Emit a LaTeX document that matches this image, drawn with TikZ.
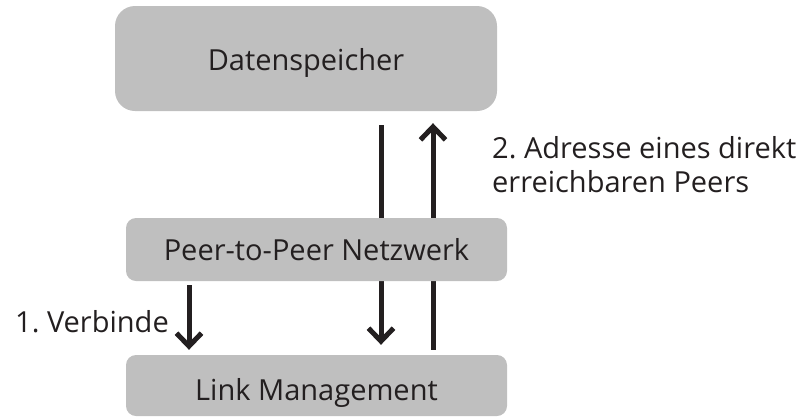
\documentclass[tikz,border=0pt]{standalone}
\usepackage{fontspec}
\setmainfont{Open Sans}
\usetikzlibrary{arrows.meta,backgrounds}
\definecolor{boxgray}{HTML}{BFBFBF}
\definecolor{ink}{HTML}{231F20}
\begin{document}
\frenchspacing
\begin{tikzpicture}[x=1pt,y=-1pt,
  box/.style={fill=boxgray, draw=none, inner sep=0pt, text=ink, text depth=0pt},
  flow/.style={line width=5pt, draw=ink, -{Straight Barb[length=13pt,width=25pt]}},
  lbl/.style={text=ink, inner sep=0pt},
  font=\fontsize{29}{34}\selectfont]
\useasboundingbox (0,0) rectangle (801,416);

% layers of the architecture
\node[box, rounded corners=20pt, minimum width=382pt, minimum height=105pt,
      text height=23pt] (ds) at (306,58.5) {Datenspeicher};
\node[box, rounded corners=10pt, minimum width=381pt, minimum height=63pt,
      text height=21pt] (p2p) at (316.5,249.5) {Peer-to-Peer Netzwerk};
\node[box, rounded corners=10pt, minimum width=381pt, minimum height=61pt,
      text height=29pt] (lm) at (316.5,385.5) {Link Management};

% message flow, drawn behind the boxes
\begin{scope}[on background layer]
  \draw[flow] ([xshift=75pt,yshift=-14pt]ds.south) -- ([xshift=64.5pt,yshift=10pt]lm.north);
  \draw[flow] ([xshift=116.5pt,yshift=5pt]lm.north) -- ([xshift=127pt,yshift=-12pt]ds.south);
  \draw[flow] ([xshift=-127.5pt,yshift=-4pt]p2p.south) -- ([xshift=-127.5pt,yshift=5pt]lm.north);
\end{scope}

% step labels
\node[lbl, anchor=base west] (verb) at (15,332) {1. Verbinde};
\node[lbl, anchor=base west] (adr1) at (492,158) {2. Adresse eines direkt};
\node[lbl, anchor=base west] (adr2) at (492,192) {erreichbaren Peers};
\end{tikzpicture}
\end{document}
